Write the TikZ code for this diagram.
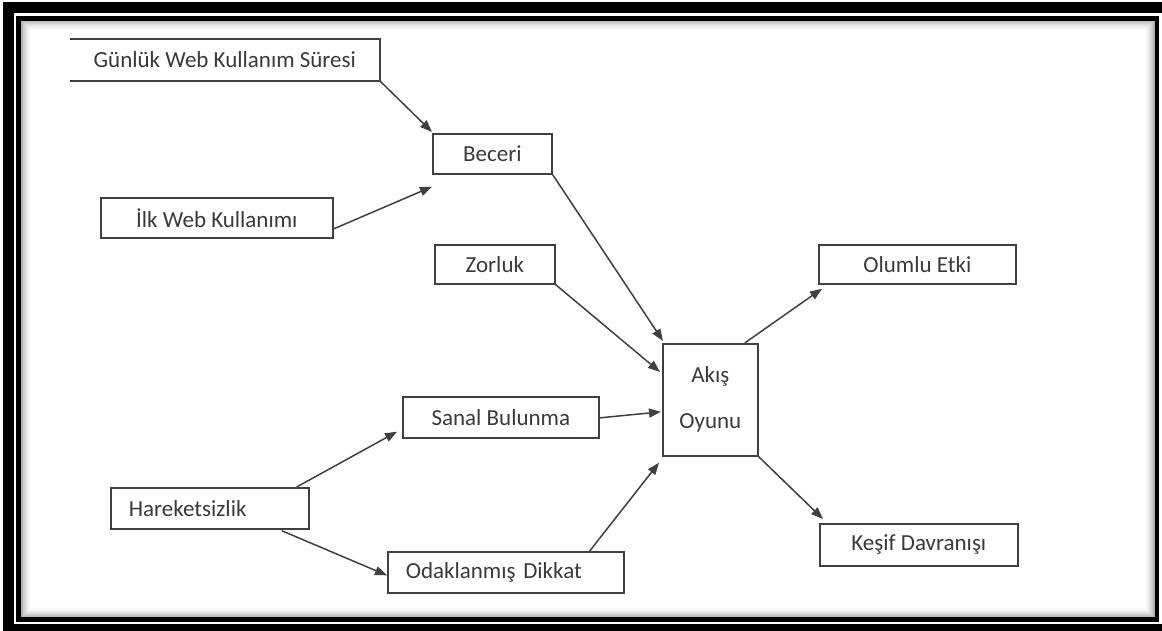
\documentclass[tikz,border=0pt]{standalone}
\usepackage{fontspec}
\setmainfont{Carlito}
\usetikzlibrary{arrows.meta,calc}
\definecolor{ink}{HTML}{3A3A3A}
\definecolor{edge}{HTML}{404040}
\begin{document}
\begin{tikzpicture}[x=1pt,y=-1pt,
  box/.style={draw=edge, line width=1.7pt, inner sep=0pt, anchor=north west,
    font=\fontsize{23}{28}\selectfont, text=ink},
  openbox/.style={box, draw=none},
  boxline/.style={draw=edge, line width=1.7pt},
  conn/.style={draw=edge, line width=1.5pt, -{Triangle[length=12pt,width=9pt]}},
]
\useasboundingbox (0,0) rectangle (1162,631);
\clip (0,0) rectangle (1162,631);
\fill[white] (0,0) rectangle (1162,631);
% frames
\draw[line width=11pt] (8,7.5) rectangle (1167,629.5);
\draw[line width=4.5pt] (18.5,18.5) rectangle (1157,619.5);
\foreach \i in {0,...,11} {
  \pgfmathsetmacro\op{0.32*(1-\i/12)*(1-\i/12)}
  \draw[black, opacity=\op, line width=1pt] (21+\i,21+\i) rectangle (1154.5-\i,617-\i);
}
% nodes
\node[openbox, minimum width=308, minimum height=40] (gunluk) at (70,39) {Günlük Web Kullanım Süresi};
\draw[boxline] (gunluk.north west) -- (gunluk.north east) -- (gunluk.south east) -- (gunluk.south west);
\node[box, minimum width=232, minimum height=40] (ilk) at (100,197) {İlk Web Kullanımı};
\node[box, minimum width=119, minimum height=40] (beceri) at (432,133) {Beceri};
\node[box, minimum width=120, minimum height=39] (zorluk) at (434,244) {Zorluk};
\node[box, minimum width=95, minimum height=112] (akis) at (662,343)
  {\raisebox{9pt}{\begin{tabular}{@{}c@{}}Akış\\[18pt]Oyunu\end{tabular}}};
\node[box, minimum width=197, minimum height=39] (olumlu) at (818,244) {Olumlu Etki};
\node[box, minimum width=196, minimum height=41] (sanal) at (402,396) {Sanal Bulunma};
\node[box, minimum width=198, minimum height=41, text width=162, align=left] (hare) at (110,487) {Hareketsizlik};
\node[box, minimum width=236, minimum height=41, text width=200, align=left] (odak) at (387,551) {Odaklanmış Dikkat};
\node[box, minimum width=198, minimum height=42] (kesif) at (819,523) {Keşif Davranışı};
% connectors
\draw[conn] (gunluk.south east) -- ($(beceri.north west)+(0,-1)$);
\draw[conn] ($(ilk.east)+(0,11)$) -- ($(beceri.south west)+(0,12)$);
\draw[conn] (beceri.south east) -- ($(akis.north west)+(1,-2)$);
\draw[conn] (zorluk.south east) -- ($(akis.north west)+(-2,29)$);
\draw[conn] ($(sanal.east)+(0,0.5)$) -- ($(akis.west)+(-1,12)$);
\draw[conn] ($(odak.north east)+(-35,0)$) -- ($(akis.south west)+(-3,6)$);
\draw[conn] ($(akis.north east)+(-14,0)$) -- ($(olumlu.south west)+(4,4)$);
\draw[conn] (akis.south east) -- ($(kesif.north west)+(4,-4)$);
\draw[conn] ($(hare.north east)+(-13,0)$) -- ($(sanal.south west)+(-5,-7)$);
\draw[conn] ($(hare.south east)+(-28,1)$) -- ($(odak.west)+(0,3)$);
\end{tikzpicture}
\end{document}
